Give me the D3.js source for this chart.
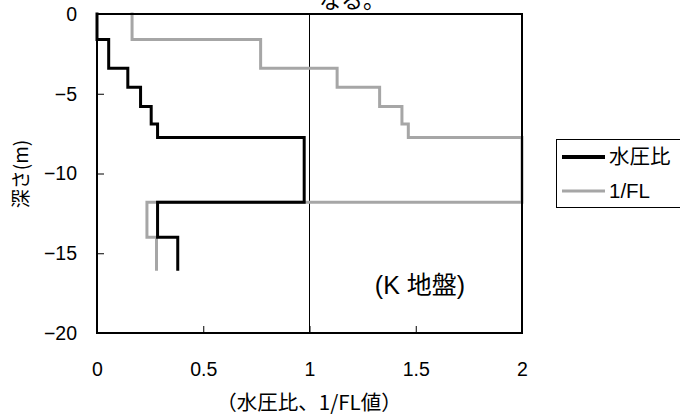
<!DOCTYPE html>
<html>
<head>
<meta charset="utf-8">
<script src="https://cdn.jsdelivr.net/npm/d3@7"></script>
<style>
  body { margin: 0; background: #fff; }
  text { font-family: "Liberation Sans", "Noto Sans CJK JP", sans-serif; fill: #000; }
</style>
</head>
<body>
<div id="container"></div>
<script>
// layer boundaries (m, negative = below ground)
const layerTops = [0, -1.6, -3.4, -4.6, -5.8, -6.9, -7.75, -11.8, -14.0]
const bottomDepth = -16.0

// values per layer
const pressureRatio = [0.0, 0.055, 0.145, 0.205, 0.255, 0.285, 0.975, 0.285, 0.38]
const invFL = [0.165, 0.77, 1.13, 1.33, 1.435, 1.465, 2.0, 0.235, 0.28]

const xTicks = [0, 0.5, 1, 1.5, 2]
const yTicks = [0, -5, -10, -15, -20]

const seriesNames = ["水圧比", "1/FL"]
const seriesColors = ["#000000", "#a6a6a6"]

const width = 680
const height = 416

const margin = {
    left: 97,
    top: 14,
    right: 158,
    bottom: 83,
};

const svg = d3.select('#container')
    .append('svg').attr('width', width).attr('height', height)

const x = d3.scaleLinear().domain([0, 2]).range([margin.left, width - margin.right])
const y = d3.scaleLinear().domain([0, -20]).range([margin.top, height - margin.bottom])

// title (cut off at the top, as in the source)
svg.append("text")
    .attr("x", 352).attr("y", 8)
    .attr("text-anchor", "middle")
    .attr("font-size", 22)
    .style("font-family", '"Noto Sans CJK JP", sans-serif')
    .text("なる。")

// step profile points: vertical along each layer, horizontal at boundaries
const stepPoints = (vals) => {
    const pts = []
    vals.forEach((v, i) => {
        const top = layerTops[i]
        const bot = i + 1 < layerTops.length ? layerTops[i + 1] : bottomDepth
        pts.push([v, top])
        pts.push([v, bot])
    })
    return pts
}

const line = d3.line().x(d => x(d[0])).y(d => y(d[1]))

// reference line at 1.0
svg.append("line")
    .attr("x1", x(1)).attr("x2", x(1))
    .attr("y1", y(0)).attr("y2", y(-20))
    .attr("stroke", "#000").attr("stroke-width", 1)

// ticks pointing inward
const xAxis = d3.axisBottom(x).tickValues(xTicks).tickSize(-7).tickPadding(29).tickFormat(d3.format("~g"))
const yAxis = d3.axisLeft(y).tickValues(yTicks).tickSize(-7).tickPadding(20).tickFormat(d3.format("~g"))

const gx = svg.append("g").attr("transform", `translate(0,${y(-20)})`).call(xAxis)
const gy = svg.append("g").attr("transform", `translate(${x(0)},0)`).call(yAxis)
;[gx, gy].forEach(g => {
    g.select(".domain").remove()
    g.selectAll("line").attr("stroke", "#000").attr("stroke-width", 1)
    g.selectAll("text").attr("font-size", 19.5).attr("fill", "#000")
        .style("font-family", '"Liberation Sans", sans-serif')
})
gx.selectAll("text").attr("dy", "0.71em")

// series
const data = [invFL, pressureRatio]
const colors = [seriesColors[1], seriesColors[0]]
data.forEach((vals, i) => {
    svg.append("path")
        .attr("d", line(stepPoints(vals)))
        .attr("fill", "none")
        .attr("stroke", colors[i])
        .attr("stroke-width", 3)
        .attr("stroke-linejoin", "miter")
        .attr("stroke-linecap", "square")
})

// frame
svg.append("rect")
    .attr("x", x(0)).attr("y", y(0))
    .attr("width", x(2) - x(0)).attr("height", y(-20) - y(0))
    .attr("fill", "none").attr("stroke", "#000").attr("stroke-width", 2)

// axis titles
svg.append("text")
    .attr("transform", `translate(28,174) rotate(-90)`)
    .attr("text-anchor", "middle")
    .attr("font-size", 19)
    .style("font-family", '"Noto Sans CJK JP", sans-serif')
    .text("深さ(m)")

svg.append("text")
    .attr("x", 309).attr("y", 410)
    .attr("text-anchor", "middle")
    .attr("font-size", 20.5)
    .style("font-family", '"Noto Sans CJK JP", sans-serif')
    .text("（水圧比、1/FL値）")

// site label
svg.append("text")
    .attr("x", 420).attr("y", 294)
    .attr("text-anchor", "middle")
    .attr("font-size", 25)
    .text("(K 地盤)")

// legend
const lg = svg.append("g")
lg.append("rect")
    .attr("x", 556.5).attr("y", 139.5)
    .attr("width", 140).attr("height", 68)
    .attr("fill", "#fff").attr("stroke", "#000").attr("stroke-width", 1)
const legendY = [157, 191]
seriesNames.forEach((name, i) => {
    lg.append("line")
        .attr("x1", 562).attr("x2", 605)
        .attr("y1", legendY[i]).attr("y2", legendY[i])
        .attr("stroke", seriesColors[i]).attr("stroke-width", i === 0 ? 4 : 3)
    lg.append("text")
        .attr("x", 609).attr("y", legendY[i])
        .attr("dy", "0.35em")
        .attr("font-size", 20.5)
        .text(name)
})
</script>
</body>
</html>
